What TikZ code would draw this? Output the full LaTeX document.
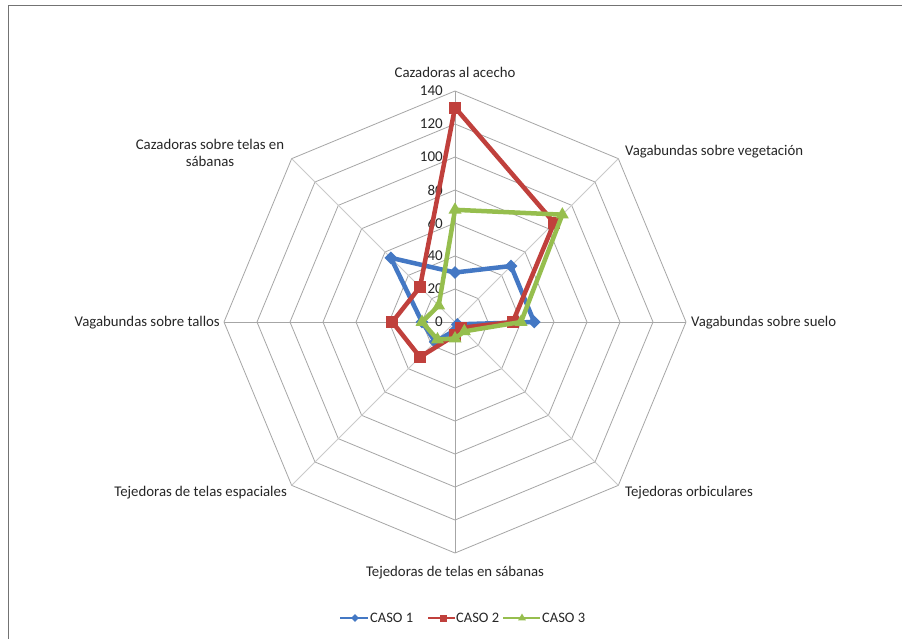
\documentclass[tikz,border=0pt]{standalone}
\usepackage{fontspec}
\setmainfont{Carlito}
\usetikzlibrary{shapes.geometric}
\definecolor{cblue}{HTML}{4478C4}
\definecolor{cred}{HTML}{C0403C}
\definecolor{cgreen}{HTML}{96BE4E}
\definecolor{gridc}{HTML}{A6A6A6}
\begin{document}
\begin{tikzpicture}[x=1pt,y=-1pt,
  gridline/.style={draw=gridc,line width=0.8pt},
  spoke/.style={draw=gridc,line width=0.8pt},
  spokelight/.style={draw=gridc!60,line width=0.8pt},
  axlabel/.style={font=\fontsize{14.8}{17}\selectfont,text=black!85,inner sep=0pt,align=center},
  ticklabel/.style={font=\fontsize{15}{17}\selectfont,text=black!85,inner sep=0pt,anchor=east},
  bline/.style={draw=cblue,line width=4.5pt,line join=round},
  rline/.style={draw=cred,line width=4.5pt,line join=round},
  gline/.style={draw=cgreen,line width=4.5pt,line join=round},
  bmark/.style={diamond,fill=cblue,inner sep=0pt,minimum size=13pt},
  rmark/.style={rectangle,fill=cred,inner sep=0pt,minimum size=12pt},
  gmark/.style={regular polygon,regular polygon sides=3,fill=cgreen,inner sep=0pt,minimum size=15pt},
  legtext/.style={font=\fontsize{14.5}{17}\selectfont,text=black!85,inner sep=0pt,anchor=west}]
\useasboundingbox (0,0) rectangle (902,638);
\fill[white] (0,0) rectangle (902,638);
% outer frame
\draw[draw=black!55,line width=0.8pt] (8,645) -- (8,5) -- (910,5);
% grid rings
\foreach \r in {1,...,7}{
  \pgfmathsetmacro{\R}{33*\r}
  \draw[gridline] (455,{322-\R}) \foreach \k in {1,...,7}{ -- ({455+\R*sin(45*\k)},{322-\R*cos(45*\k)}) } -- cycle;
}
% spokes
\foreach \k in {0,2,4,6}{
  \draw[spoke] (455,322) -- ({455+231*sin(45*\k)},{322-231*cos(45*\k)});
}
\foreach \k in {1,3,5,7}{
  \draw[spokelight] (455,322) -- ({455+231*sin(45*\k)},{322-231*cos(45*\k)});
}
% tick labels
\foreach \v in {0,20,...,140}{
  \node[ticklabel] (t\v) at (443,{322-1.65*\v}) {\v};
}
% axis labels
\node[axlabel] (a0) at (455,72) {Cazadoras al acecho};
\node[axlabel,anchor=west] (a1) at (625,152) {Vagabundas sobre vegetación};
\node[axlabel,anchor=west] (a2) at (691,323) {Vagabundas sobre suelo};
\node[axlabel,anchor=west] (a3) at (625,493) {Tejedoras orbiculares};
\node[axlabel] (a4) at (455,573) {Tejedoras de telas en sábanas};
\node[axlabel,anchor=east] (a5) at (287,493) {Tejedoras de telas espaciales};
\node[axlabel,anchor=east] (a6) at (220,323) {Vagabundas sobre tallos};
\node[axlabel] (a7) at (210,153) {Cazadoras sobre telas en\\sábanas};
% data
\foreach \v [count=\k from 0] in {30,48,48,2,5,17,20,55}{
  \coordinate (b\k) at ({455+1.65*\v*sin(45*\k)},{322-1.65*\v*cos(45*\k)});
}
\foreach \v [count=\k from 0] in {130,85,35,5,8,30,38,30}{
  \coordinate (r\k) at ({455+1.65*\v*sin(45*\k)},{322-1.65*\v*cos(45*\k)});
}
\foreach \v [count=\k from 0] in {68,92,40,8,10,15,20,14}{
  \coordinate (g\k) at ({455+1.65*\v*sin(45*\k)},{322-1.65*\v*cos(45*\k)});
}
\draw[bline] (b0) -- (b1) -- (b2) -- (b3) -- (b4) -- (b5) -- (b6) -- (b7) -- cycle;
\foreach \k in {0,...,7}{ \node[bmark] (bm\k) at (b\k) {}; }
\draw[rline] (r0) -- (r1) -- (r2) -- (r3) -- (r4) -- (r5) -- (r6) -- (r7) -- cycle;
\foreach \k in {0,...,7}{ \node[rmark] (rm\k) at (r\k) {}; }
\draw[gline] (g0) -- (g1) -- (g2) -- (g3) -- (g4) -- (g5) -- (g6) -- (g7) -- cycle;
\foreach \k in {0,...,7}{ \node[gmark] (gm\k) at (g\k) {}; }
% legend
\coordinate (l1a) at (340,618); \coordinate (l1b) at (368,618);
\coordinate (l2a) at (428,618); \coordinate (l2b) at (455,618);
\coordinate (l3a) at (503,618); \coordinate (l3b) at (540,618);
\draw[draw=cblue,line width=2.5pt] (l1a) -- (l1b);
\node[bmark,minimum size=8pt] (lm1) at (355,618) {};
\node[legtext] (lt1) at (370,618) {CASO 1};
\draw[draw=cred,line width=2.5pt] (l2a) -- (l2b);
\node[rmark,minimum size=7pt] (lm2) at (443,618) {};
\node[legtext] (lt2) at (456,618) {CASO 2};
\draw[draw=cgreen,line width=2.5pt] (l3a) -- (l3b);
\node[gmark,minimum size=9pt] (lm3) at (522,618) {};
\node[legtext] (lt3) at (542,618) {CASO 3};
\end{tikzpicture}
\end{document}
